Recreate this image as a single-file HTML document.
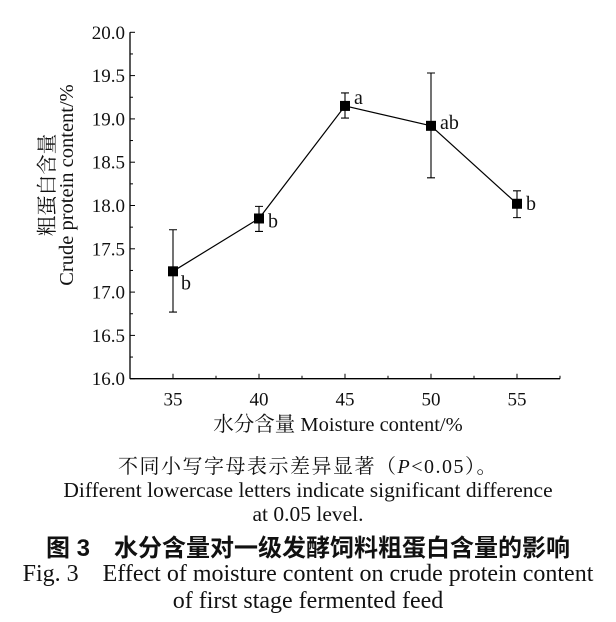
<!DOCTYPE html>
<html><head><meta charset="utf-8"><style>
body{margin:0;background:#fff;width:616px;height:622px;overflow:hidden;font-family:"Liberation Serif","Noto Serif CJK SC",serif;}
svg{position:absolute;left:0;top:0}
.cap{position:absolute;left:0;width:616px;text-align:center;color:#111;white-space:nowrap}
</style></head><body>
<svg width="616" height="440" id="chart"></svg>
<div class="cap" style="top:450px;font-size:20px;letter-spacing:1.5px;font-family:'Liberation Serif','Noto Serif CJK SC',serif">不同小写字母表示差异显著（<i>P</i>&lt;0.05）。</div>
<div class="cap" style="top:478px;font-size:21.5px;line-height:24px">Different lowercase letters indicate significant difference<br>at 0.05 level.</div>
<div class="cap" style="top:528px;font-size:24px;font-weight:bold;font-family:'Liberation Sans','Noto Sans CJK SC',sans-serif">图 3　水分含量对一级发酵饲料粗蛋白含量的影响</div>
<div class="cap" style="top:561px;font-size:24px;line-height:27px">Fig. 3　Effect of moisture content on crude protein content<br>of first stage fermented feed</div>
<script>
const categories=[35,40,45,50,55];
const values=[17.24,17.85,19.15,18.92,18.02];
const errHigh=[17.72,17.99,19.30,19.53,18.17];
const errLow=[16.77,17.70,19.01,18.32,17.86];
const letters=["b","b","a","ab","b"];
const xTicks=[35,40,45,50,55];
const yTicks=[16.0,16.5,17.0,17.5,18.0,18.5,19.0,19.5,20.0];
const NS="http://www.w3.org/2000/svg";
const svg=document.getElementById('chart');
const L=130,R=560,T=32.3,B=378.7;
const xs=v=>L+(v-32.5)/(57.5-32.5)*(R-L);
const ys=v=>B-(v-16)/(20-16)*(B-T);
function mk(tag,at,parent){const e=document.createElementNS(NS,tag);for(const k in at)e.setAttribute(k,at[k]);(parent||svg).appendChild(e);return e;}
let e;
e=mk('line',{x1:L,y1:T,x2:L,y2:B,stroke:'#000','stroke-width':1.3});


e=mk('line',{x1:L,y1:B,x2:R,y2:B,stroke:'#000','stroke-width':1.3});


yTicks.forEach((t,i)=>{
  const y=ys(t);
  mk('line',{x1:L,y1:y,x2:L+5,y2:y,stroke:'#000','stroke-width':1});
  if(i<yTicks.length-1){const m=ys(t+0.25);mk('line',{x1:L,y1:m,x2:L+3,y2:m,stroke:'#000','stroke-width':1});}
  e=mk('text',{x:L-5,y:y+6.5,'text-anchor':'end','font-size':19,fill:'#111'});
  e.textContent=t.toFixed(1);
  
  
});
for(let v=32.5;v<=57.5;v+=2.5){
  const x=xs(v);const major=xTicks.includes(v);
  mk('line',{x1:x,y1:B,x2:x,y2:B-(major?5:3),stroke:'#000','stroke-width':1});
}
xTicks.forEach(t=>{
  e=mk('text',{x:xs(t),y:B+27,'text-anchor':'middle','font-size':19,fill:'#111'});
  e.textContent=t;
  
  
});
e=mk('text',{x:338,y:431,'text-anchor':'middle','font-size':20.5,fill:'#111'});
e.textContent='水分含量 Moisture content/%';


const g=mk('g',{transform:'translate(56,185) rotate(-90)'});
e=mk('text',{x:0,y:-2,'text-anchor':'middle','font-size':20.5,fill:'#111'},g);
e.textContent='粗蛋白含量';


e=mk('text',{x:0,y:17,'text-anchor':'middle','font-size':20.5,fill:'#111'},g);
e.textContent='Crude protein content/%';


e=mk('polyline',{points:categories.map((c,i)=>xs(c)+','+ys(values[i])).join(' '),fill:'none',stroke:'#000','stroke-width':1.2});


categories.forEach((c,i)=>{
  const x=xs(c);
  e=mk('path',{d:`M${x},${ys(errHigh[i])}V${ys(errLow[i])}M${x-4},${ys(errHigh[i])}H${x+4}M${x-4},${ys(errLow[i])}H${x+4}`,stroke:'#000','stroke-width':1.1,fill:'none'});
  
  
  e=mk('rect',{x:x-5,y:ys(values[i])-5,width:10,height:10,fill:'#000'});
  
  
  const off=i===0?{dx:8,dy:18}:i===1?{dx:9,dy:9}:i===2?{dx:9,dy:-2}:i===3?{dx:9,dy:3}:{dx:9,dy:6};
  e=mk('text',{x:x+off.dx,y:ys(values[i])+off.dy,'font-size':20,fill:'#111'});
  e.textContent=letters[i];
  
  
});
</script>
</body></html>
